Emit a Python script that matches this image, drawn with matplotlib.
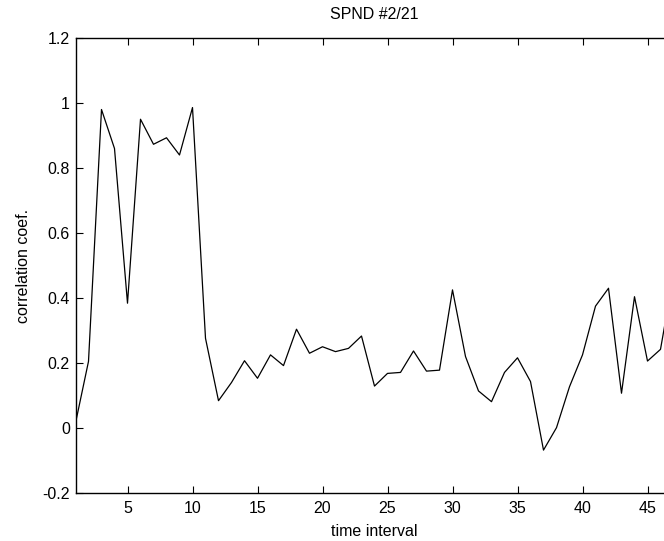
import matplotlib.pyplot as plt

plt.rcParams['font.family'] = ['Liberation Sans', 'DejaVu Sans']

interval = list(range(1, 48))
coef = [0.015, 0.205, 0.98, 0.86, 0.384, 0.95, 0.873, 0.893, 0.84, 0.986,
        0.276, 0.084, 0.14, 0.207, 0.153, 0.225, 0.192, 0.304, 0.23, 0.25,
        0.235, 0.245, 0.283, 0.129, 0.168, 0.171, 0.237, 0.175, 0.178, 0.425,
        0.22, 0.114, 0.081, 0.171, 0.216, 0.143, -0.068, 0.001, 0.127, 0.225,
        0.375, 0.43, 0.107, 0.404, 0.206, 0.242, 0.47]

fig = plt.figure(figsize=(6.64, 5.41), dpi=100)
ax = fig.add_axes([75.5/664, 1 - 493/541, 598/664, 455/541])
ax.plot(interval, coef, color='black', linewidth=0.9)

ax.set_xlim(1, 47)
ax.set_ylim(-0.2, 1.2)
ax.set_xticks([5, 10, 15, 20, 25, 30, 35, 40, 45])
ax.set_yticks([-0.2, 0, 0.2, 0.4, 0.6, 0.8, 1, 1.2])
ax.set_yticklabels(['-0.2', '0', '0.2', '0.4', '0.6', '0.8', '1', '1.2'])
ax.tick_params(direction='in', length=5, width=0.8, labelsize=11.5,
               top=True, right=True, pad=4, colors='black')
ax.tick_params(axis='x', pad=6)
for s in ax.spines.values():
    s.set_linewidth(1.0)

ax.set_title('SPND #2/21', fontsize=11.5, pad=14)
ax.set_xlabel('time interval', fontsize=11.5, labelpad=5.5)
ax.set_ylabel('correlation coef.', fontsize=11.5, labelpad=8)

fig.savefig('out.png', dpi=100)
